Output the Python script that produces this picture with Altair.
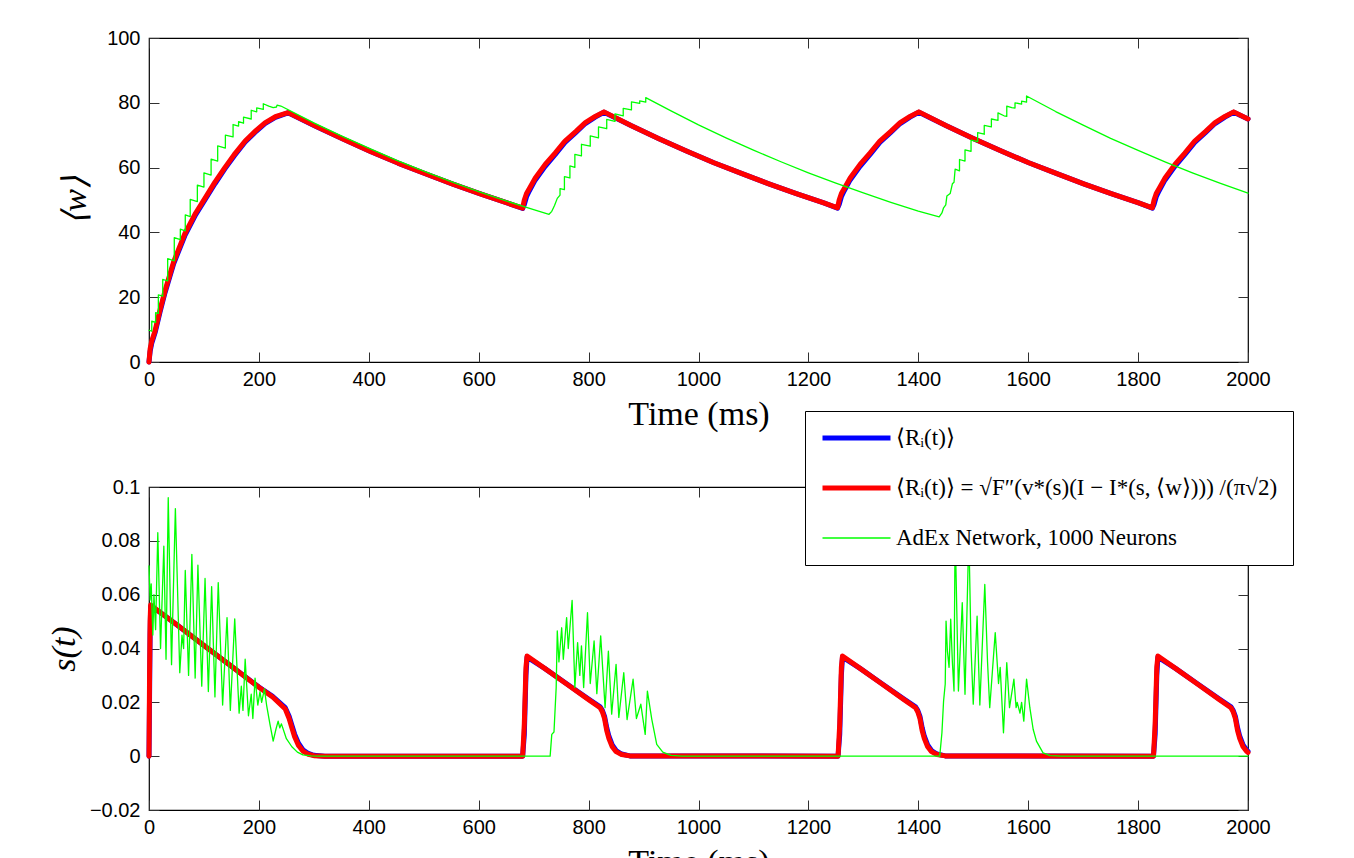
import altair as alt
import pandas as pd

# ---------------- series names / styles ----------------
SERIES = [
    "⟨Rᵢ(t)⟩",
    "⟨Rᵢ(t)⟩ = √F″(v*(s)(I − I*(s, ⟨w⟩))) /(π√2)",
    "AdEx Network, 1000 Neurons",
]
COLORS = ["#0000ff", "#ff0000", "#00ff00"]
WIDTHS = [5, 5, 1.3]

X_TICKS = [0, 200, 400, 600, 800, 1000, 1200, 1400, 1600, 1800, 2000]
W_TICKS = [0, 20, 40, 60, 80, 100]
S_TICKS = [-0.02, 0, 0.02, 0.04, 0.06, 0.08, 0.1]

# ---------------- top panel: <w> ----------------
T_W_MODEL = [0, 2, 5, 11, 20, 29, 45, 65, 85, 102, 120, 138, 155, 175, 195, 211, 230, 253,
             303, 353, 403, 453, 503, 553, 603, 653, 680,
             683, 687, 692, 703, 721, 739, 757, 777, 794, 812, 828,
             878, 928, 978, 1028, 1078, 1128, 1178, 1228, 1253,
             1256, 1260, 1265, 1276, 1294, 1312, 1330, 1350, 1367, 1385, 1401,
             1451, 1501, 1551, 1601, 1651, 1701, 1751, 1801, 1826,
             1829, 1833, 1838, 1849, 1867, 1885, 1903, 1923, 1940, 1958, 1974,
             2000]
W_RED = [0.0, 4.0, 6.5, 9.6, 16.0, 21.9, 31.0, 39.5, 46.0, 50.6, 55.5, 60.0, 64.0, 68.2, 71.5, 73.8, 75.7, 77.0,
         72.8, 68.8, 65.0, 61.4, 58.1, 54.9, 51.9, 49.0, 47.5,
         50.0, 52.0, 53.5, 56.8, 61.0, 64.5, 68.2, 71.2, 73.9, 75.8, 77.2,
         72.9, 68.9, 65.1, 61.5, 58.2, 55.0, 52.0, 49.1, 47.6,
         50.0, 52.0, 53.5, 56.8, 61.0, 64.5, 68.2, 71.2, 73.9, 75.8, 77.2,
         72.9, 68.9, 65.1, 61.5, 58.2, 55.0, 52.0, 49.1, 47.6,
         50.0, 52.0, 53.5, 56.8, 61.0, 64.5, 68.2, 71.2, 73.9, 75.8, 77.2,
         75.0]
W_BLUE = [0.0, 3.2, 5.8, 9.0, 15.4, 21.3, 30.4, 38.9, 45.5, 50.1, 55.0, 59.6, 63.6, 67.9, 71.2, 73.6, 75.5, 76.9,
          72.8, 68.8, 65.0, 61.4, 58.1, 54.9, 51.9, 49.0, 47.4,
          48.6, 51.0, 52.8, 56.2, 60.4, 64.0, 67.8, 70.9, 73.6, 75.6, 77.1,
          72.9, 68.9, 65.1, 61.5, 58.2, 55.0, 52.0, 49.1, 47.5,
          48.6, 51.0, 52.8, 56.2, 60.4, 64.0, 67.8, 70.9, 73.6, 75.6, 77.1,
          72.9, 68.9, 65.1, 61.5, 58.2, 55.0, 52.0, 49.1, 47.5,
          48.6, 51.0, 52.8, 56.2, 60.4, 64.0, 67.8, 70.9, 73.6, 75.6, 77.1,
          75.0]
T_W_NET = [0, 5, 5, 12, 12, 17, 17, 25, 25, 34, 34, 46, 46, 57, 57, 66, 66, 75, 75, 88, 88, 100, 100,
           113, 113, 125, 125, 139, 139, 153, 153, 163, 163, 172, 172, 186, 186, 196, 196, 208, 208,
           218, 226, 232, 233, 240,
           300, 350, 400, 450, 500, 550, 600, 650, 700, 728,
           733, 738, 743, 748, 748, 756, 756, 766, 766, 775, 775, 787, 787, 803, 803, 818, 818,
           833, 833, 848, 848, 863, 863, 878, 878, 893, 893, 904, 904,
           950, 1000, 1050, 1100, 1150, 1200, 1250, 1300, 1350, 1400, 1438,
           1443, 1446, 1450, 1452, 1458, 1462, 1465, 1467, 1475, 1475, 1485, 1485, 1496, 1496,
           1508, 1508, 1520, 1520, 1533, 1533, 1545, 1545, 1556, 1561, 1561, 1570, 1576, 1576,
           1588, 1588, 1597, 1597,
           1650, 1700, 1750, 1800, 1850, 1900, 1950, 2000]
W_NET = [9.8, 9.5, 12.6, 12.2, 15.2, 15.0, 20.7, 20.3, 25.5, 25.0, 31.9, 31.2, 38.4, 37.8, 41.0, 40.5, 45.4,
         44.9, 50.2, 49.5, 54.6, 54.0, 58.4, 57.7, 62.6, 62.0, 66.7, 66.0, 70.0, 69.5, 73.3, 72.8, 74.2,
         73.7, 75.6, 75.0, 77.7, 77.2, 78.4, 78.0, 79.7,
         79.0, 78.5, 78.7, 79.3, 79.0,
         73.8, 69.8, 66.0, 62.3, 58.9, 55.7, 52.6, 49.7, 47.0, 45.6,
         46.5, 48.3, 50.5, 51.5, 53.5, 53.2, 57.2, 56.8, 60.5, 60.1, 64.1, 63.6, 67.2, 66.6, 69.8, 69.2, 72.6,
         72.0, 74.9, 74.3, 76.6, 76.0, 78.3, 77.8, 80.3, 79.8, 80.6, 80.2, 81.6,
         77.5, 73.2, 69.2, 65.4, 61.8, 58.4, 55.2, 52.2, 49.3, 46.6, 44.8,
         46.0, 47.6, 48.5, 51.2, 52.0, 55.0, 55.5, 59.5, 59.0, 62.5, 62.0, 65.5, 65.0, 68.5,
         68.0, 70.8, 70.3, 73.0, 72.6, 75.0, 74.6, 76.9, 76.0, 75.8, 79.0, 78.5, 78.4, 80.0,
         79.6, 80.5, 80.2, 82.1,
         77.3, 73.1, 69.0, 65.3, 61.7, 58.3, 55.1, 52.1]

# ---------------- bottom panel: s(t) ----------------
T_S_MODEL = [0, 1, 2, 3, 20, 50, 100, 150, 200, 225, 248, 255, 260, 265, 272, 280, 290, 300, 320,
             680, 683, 686, 688, 720, 760, 800, 821, 825, 829, 833, 837, 843, 850, 860, 875,
             1254, 1257, 1260, 1262, 1294, 1334, 1374, 1395, 1399, 1403, 1407, 1411, 1417, 1424, 1434, 1449,
             1828, 1831, 1834, 1836, 1868, 1908, 1948, 1969, 1973, 1977, 1981, 1985, 1991, 1998, 2000]
S_RED = [0.0, 0.030, 0.050, 0.0562, 0.0535, 0.0489, 0.0411, 0.0334, 0.0256, 0.0220, 0.0175, 0.0140, 0.0105,
         0.0072, 0.0040, 0.0019, 0.0007, 0.0002, 0.0,
         0.0, 0.012, 0.033, 0.0372, 0.0326, 0.0268, 0.0210, 0.0180, 0.0165, 0.0140, 0.0095, 0.0065, 0.0035,
         0.0017, 0.0006, 0.0001,
         0.0, 0.012, 0.033, 0.0372, 0.0326, 0.0268, 0.0210, 0.0180, 0.0165, 0.0140, 0.0095, 0.0065, 0.0035,
         0.0017, 0.0006, 0.0001,
         0.0, 0.012, 0.033, 0.0372, 0.0326, 0.0268, 0.0210, 0.0180, 0.0165, 0.0140, 0.0095, 0.0065, 0.0035,
         0.0017, 0.0014]
S_BLUE = [0.0, 0.022, 0.045, 0.0555, 0.0535, 0.0489, 0.0411, 0.0334, 0.0257, 0.0222, 0.0180, 0.0148, 0.0115,
          0.0082, 0.0048, 0.0024, 0.0010, 0.0003, 0.0,
          0.0, 0.008, 0.030, 0.0368, 0.0326, 0.0269, 0.0212, 0.0183, 0.0170, 0.0148, 0.0106, 0.0074, 0.0042,
          0.0021, 0.0008, 0.0001,
          0.0, 0.008, 0.030, 0.0368, 0.0326, 0.0269, 0.0212, 0.0183, 0.0170, 0.0148, 0.0106, 0.0074, 0.0042,
          0.0021, 0.0008, 0.0001,
          0.0, 0.008, 0.030, 0.0368, 0.0326, 0.0269, 0.0212, 0.0183, 0.0170, 0.0148, 0.0106, 0.0074, 0.0042,
          0.0021, 0.0018]
T_S_NET = [0, 2, 4, 7, 9, 12, 16, 21, 27, 31, 35, 41, 48, 56, 60, 63, 66, 72, 78, 84,
           89, 96, 102, 108, 114, 120, 126, 134, 142, 148, 156, 164, 168, 171, 175, 181, 186, 189, 193, 198,
           202, 205, 210, 214, 220, 226, 231, 235, 238, 241, 250, 260, 270, 280, 295, 310,
           730, 733, 737, 741, 743, 746, 751, 754, 760, 763, 770, 775, 780, 784, 787, 791, 798, 803, 810, 815,
           822, 830, 836, 842, 850, 855, 864, 870, 881, 887, 895, 903, 907, 915, 924, 935, 950, 970,
           1439, 1443, 1446, 1449, 1450.5, 1453, 1456, 1459, 1462, 1465, 1467, 1473, 1480, 1485, 1492, 1496,
           1500, 1507, 1512, 1521, 1526, 1530, 1540, 1546, 1549, 1555, 1561, 1566, 1574, 1578, 1580, 1585,
           1588, 1592, 1597, 1603, 1609, 1615, 1627, 1640, 1660, 2000]
S_NET = [0.0707, 0.058, 0.064, 0.045, 0.060, 0.047, 0.083, 0.040, 0.078, 0.036, 0.096, 0.034, 0.092, 0.031,
         0.045, 0.040, 0.069, 0.030, 0.075, 0.029, 0.071, 0.026, 0.066, 0.024, 0.063, 0.022, 0.0645, 0.019,
         0.0515, 0.017, 0.051, 0.016, 0.026, 0.017, 0.036, 0.015, 0.023, 0.014, 0.029, 0.019, 0.024, 0.020,
         0.025, 0.019, 0.012, 0.0056, 0.010, 0.013, 0.0105, 0.012, 0.0065, 0.0035, 0.0015, 0.0005, 0.0001, 0.0,
         0.0, 0.0081, 0.009, 0.0255, 0.0465, 0.035, 0.0477, 0.036, 0.0515, 0.040, 0.0579, 0.0255, 0.0422,
         0.030, 0.041, 0.0255, 0.0533, 0.027, 0.0428, 0.0232, 0.0447, 0.018, 0.039, 0.0156, 0.0341, 0.0144,
         0.031, 0.0136, 0.0286, 0.014, 0.0193, 0.0081, 0.0242, 0.0137, 0.0044, 0.0015, 0.0003, 0.0,
         0.0, 0.0087, 0.0205, 0.0268, 0.0502, 0.039, 0.033, 0.0509, 0.035, 0.0242, 0.085, 0.0242, 0.057,
         0.023, 0.083, 0.040, 0.0193, 0.052, 0.019, 0.0638, 0.035, 0.018, 0.0459, 0.027, 0.033, 0.0087,
         0.0347, 0.018, 0.0286, 0.018, 0.020, 0.016, 0.020, 0.013, 0.0286, 0.018, 0.010, 0.0056, 0.0012,
         0.0002, 0.0, 0.0]


def frame(parts):
    rows = []
    for name, ts, vs in parts:
        assert len(ts) == len(vs), (name, len(ts), len(vs))
        for i, (t, v) in enumerate(zip(ts, vs)):
            rows.append({"t": t, "v": v, "series": name, "i": i})
    return pd.DataFrame(rows)


df_w = frame([(SERIES[0], T_W_MODEL, W_BLUE), (SERIES[1], T_W_MODEL, W_RED), (SERIES[2], T_W_NET, W_NET)])
df_s = frame([(SERIES[0], T_S_MODEL, S_BLUE), (SERIES[1], T_S_MODEL, S_RED), (SERIES[2], T_S_NET, S_NET)])

TICK = 10


def panel(df, ydomain, yticks, yfmt, ytitle, ytitle_x, height):
    color = alt.Color("series:N", scale=alt.Scale(domain=SERIES, range=COLORS),
                      legend=alt.Legend(title=None, zindex=2))
    sw = alt.StrokeWidth("series:N", scale=alt.Scale(type="ordinal", domain=SERIES, range=WIDTHS),
                         legend=alt.Legend(title=None, zindex=2))
    xs = alt.Scale(domain=[0, 2000], nice=False, zero=False)
    ys = alt.Scale(domain=ydomain, nice=False, zero=False)

    x_main = alt.Axis(values=X_TICKS, format="d", offset=-TICK, tickSize=TICK, labelPadding=7,
                      labelFlush=False, title="Time (ms)", titleY=62, titleBaseline="middle")
    y_main = alt.Axis(values=yticks, format=yfmt, offset=-TICK, tickSize=TICK, labelPadding=9,
                      labelFlush=False, title=ytitle, titleX=ytitle_x, titleY=height / 2, titleAngle=270,
                      titleBaseline="middle", titleAlign="center", titleFontStyle="italic")
    x_top = alt.Axis(values=X_TICKS, orient="top", offset=-TICK, tickSize=TICK, labels=False, title=None)
    y_right = alt.Axis(values=yticks, orient="right", offset=-TICK, tickSize=TICK, labels=False, title=None)

    def line(name, xa, ya):
        return alt.Chart(df).transform_filter(alt.datum.series == name).mark_line(
            strokeJoin="round", strokeCap="round").encode(
            x=alt.X("t:Q", scale=xs, axis=xa),
            y=alt.Y("v:Q", scale=ys, axis=ya),
            color=color, strokeWidth=sw, order="i:Q")

    return alt.layer(
        line(SERIES[0], x_main, y_main),
        line(SERIES[1], None, None),
        line(SERIES[2], x_top, y_right),
    ).resolve_axis(x="independent", y="independent").properties(width=1099, height=height)


top = panel(df_w, [0, 100], W_TICKS, "d", "⟨w⟩", -84, 324)
bottom = panel(df_s, [-0.02, 0.1], S_TICKS, "~g", "s(t)", -95, 323)

chart = alt.vconcat(top, bottom, spacing=125, bounds="flush").resolve_scale(
    color="shared", strokeWidth="shared").properties(
    padding={"left": 38, "top": 19, "right": 0, "bottom": 0}
).configure_view(stroke="black", strokeWidth=1.2).configure_axis(
    grid=False, domain=False, tickColor="#303030", tickWidth=1,
    labelFont="Liberation Sans", labelFontSize=20, labelColor="black",
    titleFont="Liberation Serif", titleFontSize=34, titleFontWeight="normal", titleColor="black"
).configure_legend(
    orient="none", legendX=656, legendY=373, strokeColor="black", fillColor="white",
    padding=15, cornerRadius=0, symbolType="stroke", symbolSize=4624,
    labelFont="Liberation Serif", labelFontSize=23, labelColor="black", labelLimit=0,
    labelOffset=3, rowPadding=26, clipHeight=24
)

chart.save("out.html", embed_options={"renderer": "svg", "actions": False})
